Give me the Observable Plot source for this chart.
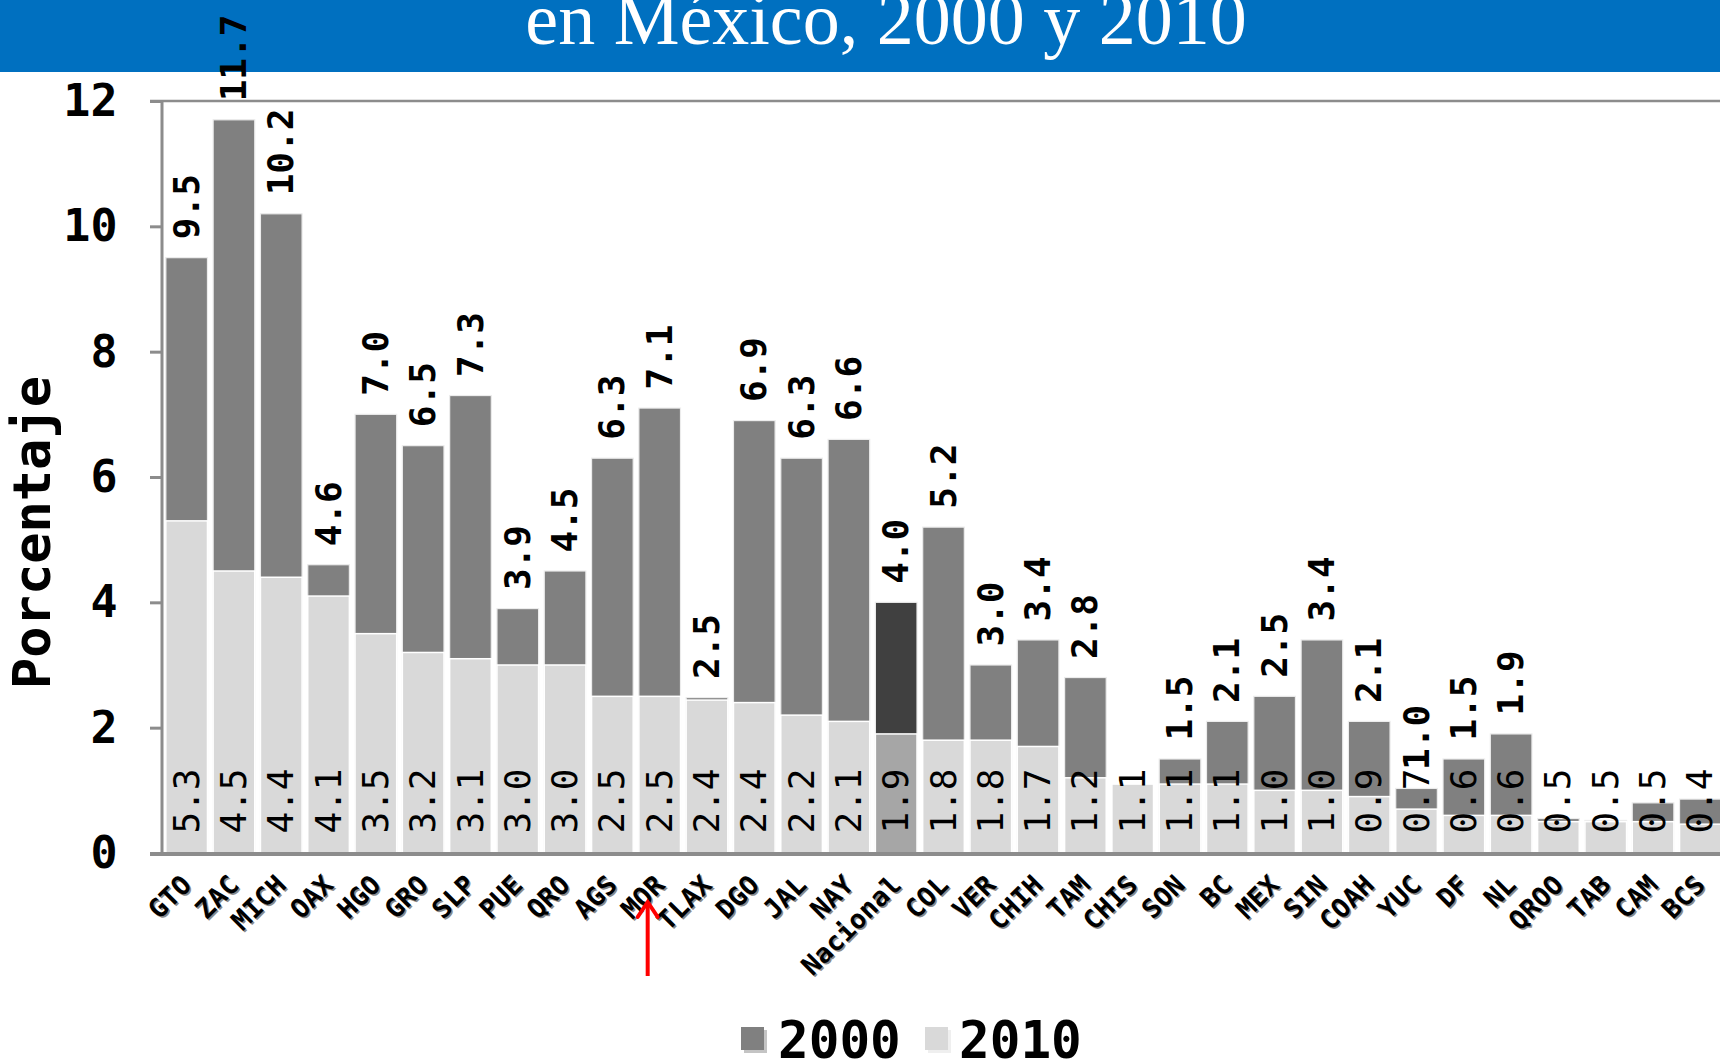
<!DOCTYPE html>
<html>
<head>
<meta charset="utf-8">
<script src="https://cdn.jsdelivr.net/npm/d3@7"></script>
<script src="https://cdn.jsdelivr.net/npm/@observablehq/plot@0.6"></script>
<style>
  html, body { margin: 0; padding: 0; background: #fff; }
  #wrap { position: relative; width: 1720px; height: 1062px; overflow: hidden; background: #fff; }
  #banner { position: absolute; left: 0; top: 0; width: 1720px; height: 72px; background: #0070c0; }
  #title { position: absolute; left: 26px; top: -18px; width: 1720px; text-align: center;
           font-family: "Liberation Serif", "Times New Roman", serif; font-size: 74px; line-height: 74px;
           color: #fff; white-space: nowrap; }
  #chart { position: absolute; left: 0; top: 0; }
  .sw { position: absolute; width: 23px; height: 23px; }
  .lt { position: absolute; font-family: "DejaVu Sans Mono", monospace; font-weight: bold;
        font-size: 51px; line-height: 40px; color: #000; }
</style>
</head>
<body>
<div id="wrap">
  <div id="banner"></div>
  <div id="title">en México, 2000 y 2010</div>
  <div id="chart"></div>
  <div id="legend"></div>
</div>
<script>
// ---- data ----
const categories = ["GTO","ZAC","MICH","OAX","HGO","GRO","SLP","PUE","QRO","AGS","MOR","TLAX","DGO","JAL","NAY","Nacional","COL","VER","CHIH","TAM","CHIS","SON","BC","MEX","SIN","COAH","YUC","DF","NL","QROO","TAB","CAM","BCS"];
const values2000 = [9.5,11.7,10.2,4.6,7.0,6.5,7.3,3.9,4.5,6.3,7.1,2.48,6.9,6.3,6.6,4.0,5.2,3.0,3.4,2.8,null,1.5,2.1,2.5,3.4,2.1,1.03,1.5,1.9,0.55,0.52,0.8,0.86];
const values2010 = [5.3,4.5,4.4,4.1,3.5,3.2,3.1,3.0,3.0,2.5,2.5,2.44,2.4,2.2,2.1,1.9,1.8,1.8,1.7,1.2,1.1,1.1,1.1,1.0,1.0,0.9,0.7,0.6,0.6,0.5,0.5,0.5,0.46];
const labels2000 = ["9.5","11.7","10.2","4.6","7.0","6.5","7.3","3.9","4.5","6.3","7.1","2.5","6.9","6.3","6.6","4.0","5.2","3.0","3.4","2.8",null,"1.5","2.1","2.5","3.4","2.1","1.0","1.5","1.9",null,null,null,null];
const labels2010 = ["5.3","4.5","4.4","4.1","3.5","3.2","3.1","3.0","3.0","2.5","2.5","2.4","2.4","2.2","2.1","1.9","1.8","1.8","1.7","1.2","1.1","1.1","1.1","1.0","1.0","0.9","0.7","0.6","0.6","0.5","0.5","0.5","0.4"];
const yTicks = [0, 2, 4, 6, 8, 10, 12];
const series = ["2000", "2010"];
const nationalCategory = "Nacional";
const pointedCategory = "MOR";

// ---- styles ----
const colors = {"2000": "#808080", "2010": "#d9d9d9"};
const nationalColors = {"2000": "#404040", "2010": "#a6a6a6"};
const axisGray = "#8c8c8c";
const monoFont = "DejaVu Sans Mono";

const rows = categories.map((c, i) => ({
  cat: c, v2000: values2000[i], v2010: values2010[i], l2000: labels2000[i], l2010: labels2010[i]
}));

function customMark(draw) {
  return function(...args) {
    let scales, dims;
    for (const a of args) {
      if (a && !scales && typeof a.x === "function" && typeof a.y === "function") scales = a;
      if (a && !dims && typeof a.width === "number" && typeof a.marginLeft === "number") dims = a;
    }
    return draw(scales, dims);
  };
}

const axisLines = customMark((s, dim) => {
  const g = d3.create("svg:g");
  const y0 = s.y(0), y12 = s.y(12);
  const xl = dim.marginLeft;
  g.append("line").attr("x1", xl - 13).attr("x2", dim.width).attr("y1", y12).attr("y2", y12)
    .attr("stroke", axisGray).attr("stroke-width", 2.5);
  g.append("line").attr("x1", xl - 13).attr("x2", dim.width).attr("y1", y0 + 1).attr("y2", y0 + 1)
    .attr("stroke", axisGray).attr("stroke-width", 4);
  g.append("line").attr("x1", xl - 1).attr("x2", xl - 1).attr("y1", y12).attr("y2", y0 + 2)
    .attr("stroke", axisGray).attr("stroke-width", 3);
  return g.node();
});

const pointer = customMark((s) => {
  const g = d3.create("svg:g");
  const x = s.x(pointedCategory) + s.x.bandwidth() / 2 - 12;
  const y0 = s.y(0);
  const tip = y0 + 49, tail = y0 + 123;
  g.append("line").attr("x1", x).attr("x2", x).attr("y1", tip + 2).attr("y2", tail)
    .attr("stroke", "#ff0000").attr("stroke-width", 4);
  g.append("polyline").attr("points", `${x - 10},${tip + 15} ${x},${tip} ${x + 10},${tip + 15}`)
    .attr("fill", "none").attr("stroke", "#ff0000").attr("stroke-width", 4)
    .attr("stroke-linejoin", "miter").attr("stroke-linecap", "round");
  return g.node();
});

const chart = Plot.plot({
  width: 1720,
  height: 1000,
  marginTop: 101,
  marginBottom: 147,
  marginLeft: 163,
  marginRight: 0,
  style: {background: "transparent", fontFamily: monoFont, color: "#000"},
  x: {type: "band", domain: categories, range: [163, 1724], paddingInner: 0.12, paddingOuter: 0.06, round: false, axis: null},
  y: {domain: [0, 12], axis: null},
  marks: [
    Plot.barY(rows.filter(d => d.v2000 != null), {
      x: "cat", y: "v2000",
      fill: d => d.cat === nationalCategory ? nationalColors["2000"] : colors["2000"],
      stroke: "#ececec", strokeWidth: 1.2
    }),
    Plot.barY(rows, {
      x: "cat", y: "v2010",
      fill: d => d.cat === nationalCategory ? nationalColors["2010"] : colors["2010"],
      stroke: "#ffffff", strokeWidth: 1.5
    }),
    axisLines,
    Plot.axisY({
      ticks: yTicks, tickSize: 13, tickPadding: 33, tickFormat: d => String(d),
      stroke: axisGray, strokeWidth: 3, fill: "#000",
      fontSize: 45, fontWeight: "bold", fontFamily: monoFont, label: null
    }),
    Plot.text(rows.filter(d => d.l2000 != null), {
      x: "cat", y: "v2000", text: "l2000", rotate: -90, textAnchor: "start",
      dy: -19, fontSize: 36, fontWeight: "bold", fontFamily: monoFont, fill: "#000"
    }),
    Plot.text(rows, {
      x: "cat", y: d => 0, text: "l2010", rotate: -90, textAnchor: "start",
      dy: -20, fontSize: 36, fontWeight: "normal", fontFamily: monoFont, fill: "#000"
    }),
    Plot.text(rows, {
      x: "cat", y: d => 0, text: "cat", rotate: -45, textAnchor: "end",
      dx: 1.5, dy: 28.5, fontSize: 26.5, fontWeight: "bold", fontFamily: monoFont, fill: "#8a8a8a"
    }),
    Plot.text(rows, {
      x: "cat", y: d => 0, text: "cat", rotate: -45, textAnchor: "end",
      dx: 0, dy: 27, fontSize: 26.5, fontWeight: "bold", fontFamily: monoFont, fill: "#000"
    }),
    Plot.text(["Porcentaje"], {
      frameAnchor: "left", text: d => d, rotate: -90, textAnchor: "middle", dx: -130, dy: 55,
      fontSize: 52, fontWeight: "bold", fontFamily: monoFont, fill: "#000"
    }),
    pointer
  ]
});
document.getElementById("chart").appendChild(chart);

// ---- legend ----
const legend = document.getElementById("legend");
const legendPos = [{sw: 741, tx: 778, shadow: "#c4c4c4"}, {sw: 925, tx: 959, shadow: "#efefef"}];
series.forEach((s, i) => {
  const sw = document.createElement("div");
  sw.className = "sw";
  sw.style.left = legendPos[i].sw + "px";
  sw.style.top = "1027px";
  sw.style.background = colors[s];
  sw.style.boxShadow = `3px 3px 0 ${legendPos[i].shadow}`;
  legend.appendChild(sw);
  const t = document.createElement("div");
  t.className = "lt";
  t.style.left = legendPos[i].tx + "px";
  t.style.top = "1021px";
  t.textContent = s;
  legend.appendChild(t);
});
</script>
</body>
</html>
